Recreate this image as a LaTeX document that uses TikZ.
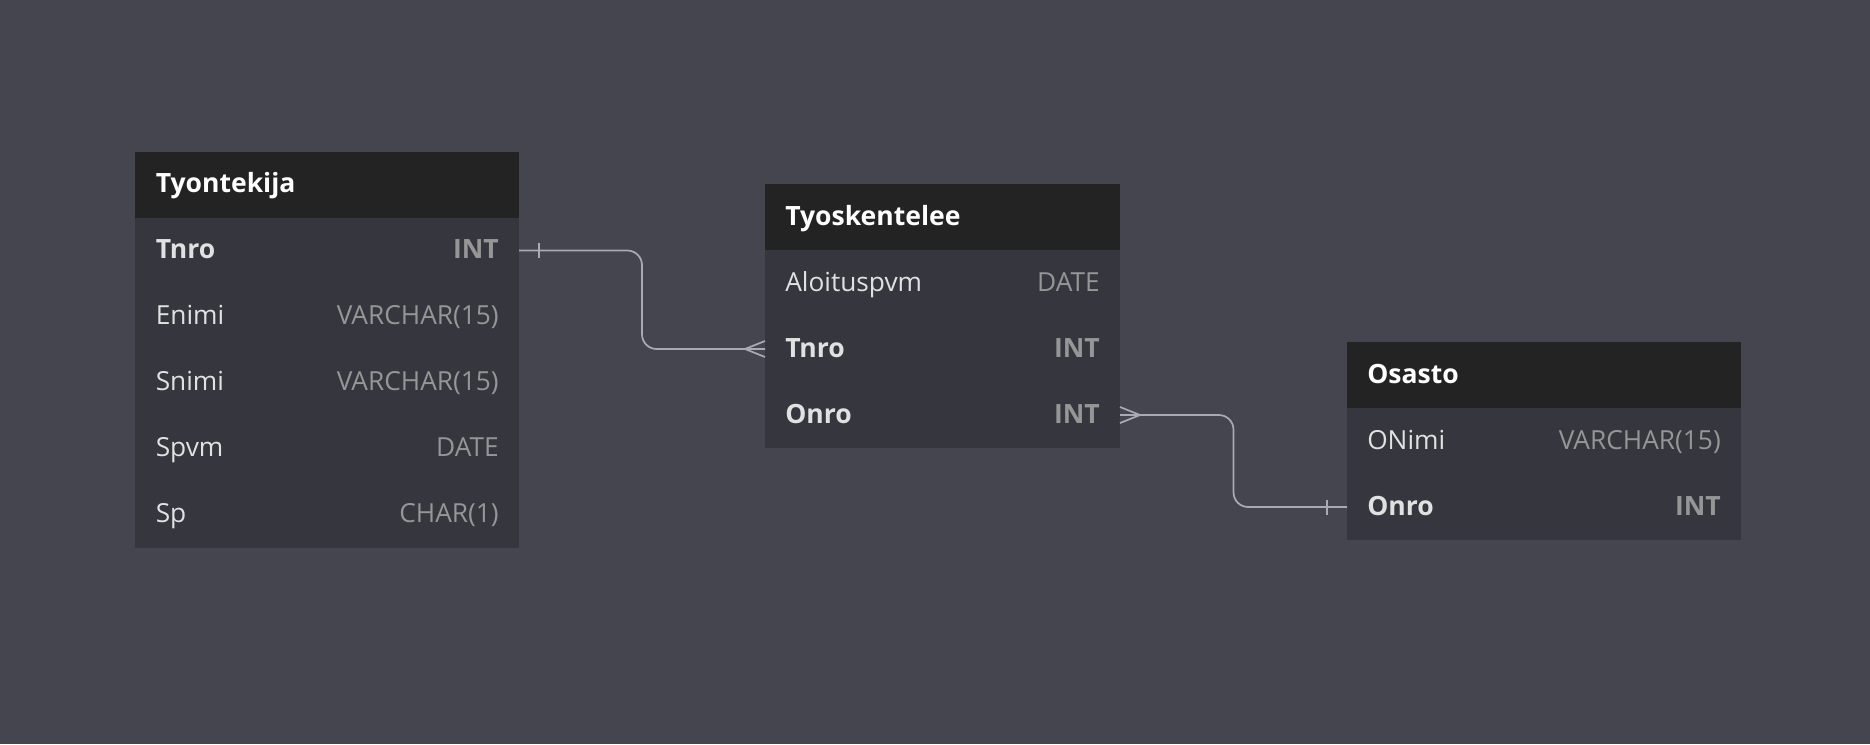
\documentclass[tikz,border=0pt]{standalone}
\usepackage{fontspec}
\setmainfont{Open Sans}
\usetikzlibrary{calc}
\definecolor{bgc}{RGB}{69,69,79}
\definecolor{bodyc}{RGB}{54,54,62}
\definecolor{headc}{RGB}{35,35,35}
\definecolor{namec}{RGB}{225,225,225}
\definecolor{typec}{RGB}{150,150,150}
\definecolor{linec}{RGB}{170,170,180}
\begin{document}
\begin{tikzpicture}[x=0.75pt,y=-0.75pt,
  font=\fontsize{19.7pt}{24pt}\selectfont,
  headbox/.style={fill=headc, inner sep=0pt, outer sep=0pt, anchor=north west, minimum height={66*0.75pt}},
  bodybox/.style={fill=bodyc, inner sep=0pt, outer sep=0pt, anchor=north west},
  rowbox/.style={inner sep=0pt, outer sep=0pt, anchor=north west, minimum height={66*0.75pt}},
  htitle/.style={text=white, font=\fontsize{19.9pt}{24pt}\selectfont\bfseries, anchor=base west, inner sep=0pt},
  fname/.style={text=namec, anchor=base west, inner sep=0pt},
  fkey/.style={text=namec, font=\fontsize{19.9pt}{24pt}\selectfont\bfseries, anchor=base west, inner sep=0pt},
  ftype/.style={text=typec, anchor=base east, inner sep=0pt},
  fktype/.style={text=typec, font=\fontsize{19.9pt}{24pt}\selectfont\bfseries, anchor=base east, inner sep=0pt},
  conn/.style={draw=linec, line width=1.3pt, rounded corners=11pt},
  endmark/.style={draw=linec, line width=1.3pt}
]
\useasboundingbox[fill=bgc] (0,0) rectangle (1870,744);

% ---------- Tyontekija ----------
\node[headbox, minimum width={384*0.75pt}] (AH) at (135,151.5) {};
\node[bodybox, minimum width={384*0.75pt}, minimum height={330*0.75pt}] (AB) at (135,217.5) {};
\node[rowbox, minimum width={384*0.75pt}] (A1) at (135,217.5) {};
\node[rowbox, minimum width={384*0.75pt}] (A2) at (135,283.5) {};
\node[rowbox, minimum width={384*0.75pt}] (A3) at (135,349.5) {};
\node[rowbox, minimum width={384*0.75pt}] (A4) at (135,415.5) {};
\node[rowbox, minimum width={384*0.75pt}] (A5) at (135,481.5) {};
\node[htitle] (AT) at ($(AH.west)+(20.5,8)$) {Tyontekija};
\node[fkey]  (A1n) at ($(A1.west)+(20.5,8)$) {Tnro};
\node[fktype](A1t) at ($(A1.east)+(-20,8)$) {INT};
\node[fname] (A2n) at ($(A2.west)+(20.5,8)$) {Enimi};
\node[ftype] (A2t) at ($(A2.east)+(-20,8)$) {VARCHAR(15)};
\node[fname] (A3n) at ($(A3.west)+(20.5,8)$) {Snimi};
\node[ftype] (A3t) at ($(A3.east)+(-20,8)$) {VARCHAR(15)};
\node[fname] (A4n) at ($(A4.west)+(20.5,8)$) {Spvm};
\node[ftype] (A4t) at ($(A4.east)+(-20,8)$) {DATE};
\node[fname] (A5n) at ($(A5.west)+(20.5,8)$) {Sp};
\node[ftype] (A5t) at ($(A5.east)+(-20,8)$) {CHAR(1)};

% ---------- Tyoskentelee ----------
\node[headbox, minimum width={355*0.75pt}] (BH) at (765,184) {};
\node[bodybox, minimum width={355*0.75pt}, minimum height={198*0.75pt}] (BB) at (765,250) {};
\node[rowbox, minimum width={355*0.75pt}] (B1) at (765,250) {};
\node[rowbox, minimum width={355*0.75pt}] (B2) at (765,316) {};
\node[rowbox, minimum width={355*0.75pt}] (B3) at (765,382) {};
\node[htitle] (BT) at ($(BH.west)+(20,8)$) {Tyoskentelee};
\node[fname] (B1n) at ($(B1.west)+(20,8)$) {Aloituspvm};
\node[ftype] (B1t) at ($(B1.east)+(-20,8)$) {DATE};
\node[fkey]  (B2n) at ($(B2.west)+(20,8)$) {Tnro};
\node[fktype](B2t) at ($(B2.east)+(-20,8)$) {INT};
\node[fkey]  (B3n) at ($(B3.west)+(20,8)$) {Onro};
\node[fktype](B3t) at ($(B3.east)+(-20,8)$) {INT};

% ---------- Osasto ----------
\node[headbox, minimum width={394*0.75pt}] (CH) at (1347,342) {};
\node[bodybox, minimum width={394*0.75pt}, minimum height={132*0.75pt}] (CB) at (1347,408) {};
\node[rowbox, minimum width={394*0.75pt}] (C1) at (1347,408) {};
\node[rowbox, minimum width={394*0.75pt}] (C2) at (1347,474) {};
\node[htitle] (CT) at ($(CH.west)+(20,8)$) {Osasto};
\node[fname] (C1n) at ($(C1.west)+(20,8)$) {ONimi};
\node[ftype] (C1t) at ($(C1.east)+(-20,8)$) {VARCHAR(15)};
\node[fkey]  (C2n) at ($(C2.west)+(20,8)$) {Onro};
\node[fktype](C2t) at ($(C2.east)+(-20,8)$) {INT};

% ---------- connectors ----------
\draw[conn] (A1.east) -| ($(A1.east)!0.5!(B2.west)$) |- (B2.west);
\draw[endmark] ($(A1.east)+(20,-7.5)$) -- ($(A1.east)+(20,7.5)$);
\draw[endmark] ($(B2.west)+(0,-8)$) -- ($(B2.west)+(-20,0)$) -- ($(B2.west)+(0,8)$);

\draw[conn] (B3.east) -| ($(B3.east)!0.5!(C2.west)$) |- (C2.west);
\draw[endmark] ($(B3.east)+(0,-8)$) -- ($(B3.east)+(20,0)$) -- ($(B3.east)+(0,8)$);
\draw[endmark] ($(C2.west)+(-20,-7.5)$) -- ($(C2.west)+(-20,7.5)$);
\end{tikzpicture}
\end{document}
